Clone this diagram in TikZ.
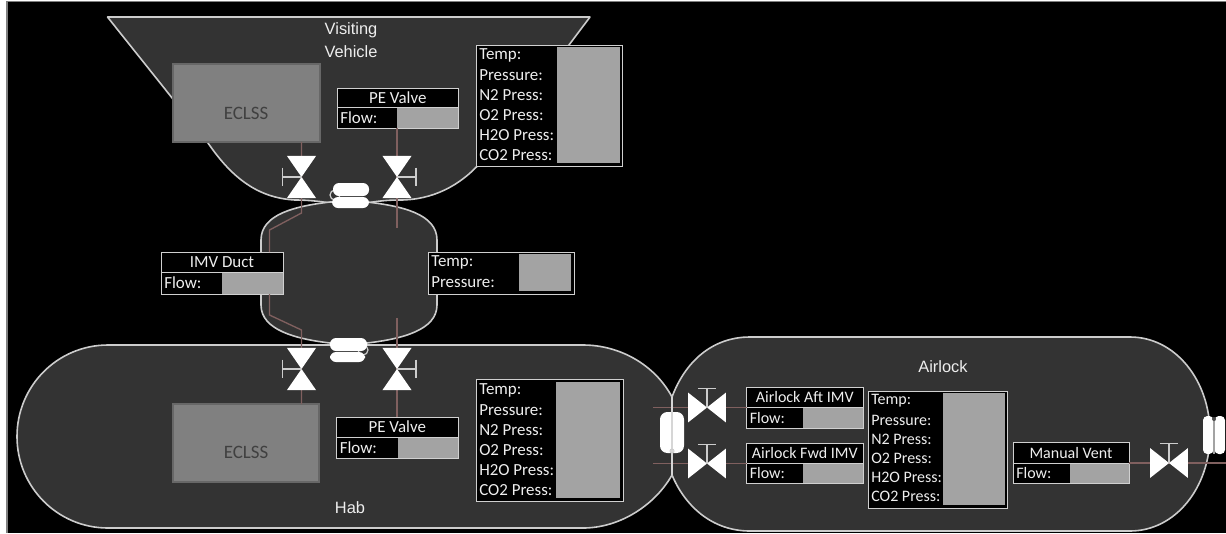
\documentclass[tikz,border=0pt]{standalone}
\usepackage{fontspec}
\setmainfont{Carlito}
\newfontfamily\arialf{Liberation Sans}
\definecolor{modfill}{HTML}{333333}
\definecolor{modline}{HTML}{CCCCCC}
\definecolor{pipecol}{HTML}{80605F}
\definecolor{gauge}{HTML}{A3A3A3}
\definecolor{boxline}{HTML}{D0D0D0}
\definecolor{txt}{HTML}{EEEEEE}
\definecolor{eclfill}{HTML}{808080}
\definecolor{eclline}{HTML}{676767}
\tikzset{
  x=0.75pt,y=-0.75pt,
  module/.style={fill=modfill,draw=modline,line width=1.2pt,line join=round},
  pipe/.style={draw=pipecol,line width=1pt},
  panel/.style={fill=black,draw=boxline,line width=0.7pt,inner sep=0pt,outer sep=0pt,anchor=north west},
  gaugebox/.style={fill=gauge,inner sep=0pt,outer sep=0pt,anchor=north west},
  eclss/.style={fill=eclfill,draw=eclline,line width=2pt,inner sep=0pt,outer sep=0pt,anchor=north west},
  label/.style={inner sep=0pt,text=txt,font=\fontsize{12.7}{14}\selectfont},
  smalllabel/.style={inner sep=0pt,text=txt,font=\fontsize{12}{14}\selectfont},
  modlabel/.style={inner sep=0pt,text=txt,font=\arialf\fontsize{12.3}{14}\selectfont},
  ecltext/.style={inner sep=0pt,text=black!75,font=\fontsize{14.2}{16}\selectfont},
  capsule/.style={fill=white,draw=none,rounded corners=4.5pt},
  tallcapsule/.style={fill=white,draw=none,rounded corners=5.5pt},
  slimcapsule/.style={fill=white,draw=none,rounded corners=3.2pt},
}
% name, style, x0,y0,x1,y1
\newcommand{\bx}[6]{%
  \pgfmathsetmacro{\bxw}{(#5-#3)*0.75}%
  \pgfmathsetmacro{\bxh}{(#6-#4)*0.75}%
  \node[#2,minimum width=\bxw pt,minimum height=\bxh pt] (#1) at (#3,#4) {};}
% name, x0,y0,x1,ydiv,y1,xgauge,title,titlestyle
\newcommand{\flowbox}[9]{%
  \bx{#1}{panel}{#2}{#3}{#4}{#6}%
  \bx{#1g}{gaugebox}{#7}{#5}{#4}{#6}%
  \draw[draw=boxline,line width=0.7pt] (#2,#5) -- (#4,#5);
  \draw[draw=boxline,line width=0.7pt] (#2,#3) rectangle (#4,#6);
  \pgfmathsetmacro{\ftx}{(#2+#4)/2}\pgfmathsetmacro{\fty}{(#3+#5)/2}%
  \node[#9] (#1t) at (\ftx,\fty) {#8};
  \pgfmathsetmacro{\ffx}{#2+3}\pgfmathsetmacro{\ffy}{(#5+#6)/2}%
  \node[#9,anchor=west] (#1f) at (\ffx,\ffy) {Flow:};}
% name, x, y, step, style
\newcommand{\rows}[5]{%
  \foreach \lab/\idx/\nm in {Temp:/0/a,Pressure:/1/b,N2 Press:/2/c,O2 Press:/3/d,H2O Press:/4/e,CO2 Press:/5/f}{
    \pgfmathsetmacro{\ry}{#3+\idx*#4}
    \node[#5,anchor=west] (#1\nm) at (#2,\ry) {\lab};
  }}
% vertical-pipe valve: name, handle direction
\newcommand{\valveV}[2]{%
  \fill[white] ([xshift=-10.9pt,yshift=15.8pt]#1) -- ([xshift=10.9pt,yshift=15.8pt]#1) -- (#1) -- cycle;
  \fill[white] ([xshift=-10.9pt,yshift=-15.8pt]#1) -- ([xshift=10.9pt,yshift=-15.8pt]#1) -- (#1) -- cycle;
  \draw[modline,line width=1pt] (#1) -- ([xshift=#2*14.2pt]#1);
  \draw[modline,line width=1pt] ([xshift=#2*14.2pt,yshift=7.1pt]#1) -- ([xshift=#2*14.2pt,yshift=-7.1pt]#1);}
% horizontal-pipe valve: name
\newcommand{\valveH}[1]{%
  \fill[white] ([xshift=-14.2pt,yshift=11.2pt]#1) -- ([xshift=-14.2pt,yshift=-11.2pt]#1) -- (#1) -- cycle;
  \fill[white] ([xshift=14.2pt,yshift=11.2pt]#1) -- ([xshift=14.2pt,yshift=-11.2pt]#1) -- (#1) -- cycle;
  \draw[modline,line width=1pt] (#1) -- ([yshift=14.5pt]#1);
  \draw[modline,line width=1pt] ([xshift=-6.8pt,yshift=14.5pt]#1) -- ([xshift=6.8pt,yshift=14.5pt]#1);}
\begin{document}
\begin{tikzpicture}
\useasboundingbox (0,0) rectangle (1226,533);
\fill[white] (0,0) rectangle (1226,533);
\fill[black] (7,2) rectangle (1226,533);
\draw[gray,line width=0.9pt] (7,533) -- (7,1.5) -- (1226,1.5);

% modules
\draw[module] (107.5,17) -- (590,17) -- (481,162) .. controls (460,186) and (432,200) .. (400,200)
  .. controls (388,200) and (378,201) .. (367,203) -- (330,203) .. controls (318,201) and (306,200) .. (295,200)
  .. controls (258,198) and (232,178) .. (208,143) -- cycle;
\draw[module] (330,202) .. controls (296,206) and (261,214) .. (261,240) -- (261,305)
  .. controls (261,330) and (296,339) .. (330,343) -- (367,343)
  .. controls (402,339) and (437,330) .. (437,305) -- (437,240)
  .. controls (437,214) and (402,206) .. (367,202) -- cycle;
\draw[module] (108,345) -- (583,345) .. controls (620,345) and (655,365) .. (672,397) -- (672,475)
  .. controls (655,505) and (620,528) .. (583,528) -- (108,528)
  .. controls (57.5,528) and (17,487) .. (17,436.5) .. controls (17,386) and (57.5,345) .. (108,345) -- cycle;
\draw[module] (672,397) .. controls (685,362) and (712,337) .. (750,337) -- (1130,337)
  .. controls (1175,337) and (1210,380) .. (1210,434) .. controls (1210,488) and (1175,531) .. (1130,531)
  -- (750,531) .. controls (712,531) and (685,506) .. (672,475) -- cycle;

% ECLSS
\bx{vvEclss}{eclss}{173}{64}{320}{142}
\bx{habEclss}{eclss}{173}{404}{319}{482}
\node[ecltext] (vvEclssT) at (246,113) {ECLSS};
\node[ecltext] (habEclssT) at (246,452) {ECLSS};

% panels
\flowbox{vvPE}{337}{88}{458.5}{107.5}{128}{397}{PE Valve}{label}
\flowbox{habPE}{336.5}{417}{458}{437}{458}{398}{PE Valve}{label}
\flowbox{duct}{161}{252}{283}{272}{294}{222}{IMV Duct}{label}
\flowbox{aft}{746.5}{387}{863}{407}{428}{803}{Airlock Aft IMV}{smalllabel}
\flowbox{fwd}{746.5}{443}{863}{463}{483}{803}{Airlock Fwd IMV}{smalllabel}
\flowbox{vent}{1013}{442}{1129}{463}{483}{1070}{Manual Vent}{smalllabel}

\bx{vvStat}{panel}{476}{45}{622}{166}
\bx{vvStatG}{gaugebox}{557}{47}{620}{163}
\rows{vvS}{479}{55}{20}{label}
\bx{habStat}{panel}{476}{379}{623}{501}
\bx{habStatG}{gaugebox}{556}{382}{620}{498}
\rows{habS}{479}{390}{20}{label}
\bx{alStat}{panel}{868}{391}{1007}{508}
\bx{alStatG}{gaugebox}{943}{393}{1005}{505}
\rows{alS}{871}{401}{19}{smalllabel}
\bx{midStat}{panel}{428}{252}{574}{294}
\bx{midStatG}{gaugebox}{519}{254}{571}{291}
\node[label,anchor=west] (midT) at (431,262) {Temp:};
\node[label,anchor=west] (midP) at (431,282) {Pressure:};

% valve centres and pipe bends
\coordinate (v1) at (301.5,177);
\coordinate (v2) at (397,177);
\coordinate (v3) at (301.5,369);
\coordinate (v4) at (397,369);
\coordinate (v5) at (707,407.5);
\coordinate (v6) at (707,463.5);
\coordinate (v7) at (1169,463);
\coordinate (b1) at (301.5,213);
\coordinate (b2) at (269.5,230);
\coordinate (b3) at (269.5,315);
\coordinate (b4) at (301.5,330);
\coordinate (e2) at (397,228);
\coordinate (e4) at (397,318);
\coordinate (e5) at (653,407.5);
\coordinate (e6) at (653,463.5);
\coordinate (e7) at (1226,463);

% pipes
\draw[pipe] (vvEclss.south -| v1) -- (v1) -- (b1) -- (b2) -- (duct.north -| b2);
\draw[pipe] (duct.south -| b3) -- (b3) -- (b4) -- (v3) -- (habEclss.north -| v3);
\draw[pipe] (vvPE.south -| v2) -- (v2) -- (e2);
\draw[pipe] (e4) -- (v4) -- (habPE.north -| v4);
\draw[pipe] (e5) -- (v5) -- (aft.west |- v5);
\draw[pipe] (e6) -- (v6) -- (fwd.west |- v6);
\draw[pipe] (vent.east |- v7) -- (v7) -- (e7);

% valves
\valveV{v1}{-1}
\valveV{v2}{1}
\valveV{v3}{-1}
\valveV{v4}{1}
\valveH{v5}
\valveH{v6}
\valveH{v7}

% hatch capsules
\draw[modline,line width=0.9pt] (335,195) circle[radius=5];
\fill[capsule] (333,183) rectangle (369,196);
\fill[capsule] (332,197) rectangle (369,208);
\draw[modline,line width=0.9pt] (363,350) circle[radius=5];
\fill[capsule] (330,338) rectangle (367,351);
\fill[capsule] (330,352) rectangle (365,362);
\fill[tallcapsule] (660,412) rectangle (684,453);
\draw[modline!80!white,line width=0.9pt] (672,397) -- (672,475);
\draw[modline,line width=0.7pt] (672,451) circle[radius=2];
\fill[slimcapsule] (1203,416) rectangle (1213.5,454);
\fill[slimcapsule] (1214.5,416) rectangle (1225,454);
\draw[gauge,line width=1pt] (1214,418) -- (1214,454);
\fill[black!70] (1214,419) circle[radius=2];

% module labels
\node[modlabel] (vvA) at (351,30) {Visiting};
\node[modlabel] (vvB) at (351,52) {Vehicle};
\node[modlabel] (habL) at (350,508) {Hab};
\node[modlabel] (alL) at (943,367) {Airlock};
\end{tikzpicture}
\end{document}
